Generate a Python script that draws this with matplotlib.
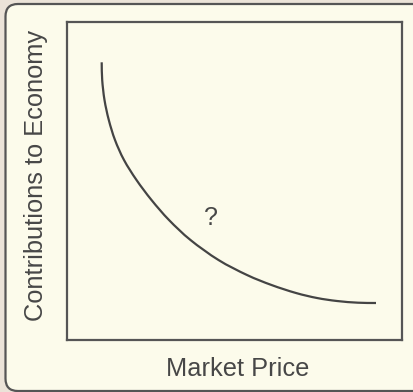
import matplotlib
matplotlib.use("Agg")
import matplotlib.pyplot as plt
import numpy as np
from matplotlib.patches import FancyBboxPatch, PathPatch
from matplotlib.path import Path

plt.rcParams['font.family'] = ['Liberation Sans', 'DejaVu Sans']

# Curve: market price (x) vs contributions to economy (y), arbitrary units
price = [34.7, 35.2, 37.5, 41.8, 48.0, 57.0, 69.5, 84.5, 102.0, 123.5, 151.5,
         180.0, 204.5, 229.0, 250.0, 270.0, 291.0, 309.0]
contribution = [277.7, 260.0, 240.0, 220.0, 200.0, 180.0, 160.0, 140.0, 120.0,
                100.0, 80.0, 65.0, 55.0, 47.0, 42.0, 39.0, 37.3, 37.0]

label_pos = (144.0, 122.0)
label_text = "?"
x_label = "Market Price"
y_label = "Contributions to Economy"


def smooth_path(xs, ys):
    """Catmull-Rom spline through the points, as cubic Bezier segments."""
    p = np.column_stack([xs, ys]).astype(float)
    ext = np.vstack([2 * p[0] - p[1], p, 2 * p[-1] - p[-2]])
    verts = [p[0]]
    codes = [Path.MOVETO]
    for i in range(1, len(ext) - 2):
        p0, p1, p2, p3 = ext[i - 1], ext[i], ext[i + 1], ext[i + 2]
        c1 = p1 + (p2 - p0) / 6.0
        c2 = p2 - (p3 - p1) / 6.0
        verts += [c1, c2, p2]
        codes += [Path.CURVE4] * 3
    return Path(verts, codes)


W, H = 413, 392
fig = plt.figure(figsize=(W / 100, H / 100), dpi=100)
fig.patch.set_facecolor('#ebe3d8')

# Rounded card behind the chart
card = FancyBboxPatch((5.5 / W, 1 - 391 / H), (430 - 5.5) / W, (391 - 4) / H,
                      boxstyle="round,pad=0,rounding_size=0.03",
                      transform=fig.transFigure, facecolor='#fcfbeb',
                      edgecolor='#555555', linewidth=1.6, zorder=-5,
                      mutation_aspect=W / H)
fig.patches.append(card)

ax = fig.add_axes([67 / W, (H - 340) / H, (402 - 67) / W, (340 - 22) / H])
ax.set_zorder(2)
ax.set_facecolor('#fcfbeb')
ax.add_patch(PathPatch(smooth_path(price, contribution), facecolor='none',
                       edgecolor='#444444', lw=1.6, capstyle='butt'))
ax.set_xlim(0, 335)
ax.set_ylim(0, 318)
ax.set_xticks([])
ax.set_yticks([])
for s in ax.spines.values():
    s.set_color('#555555')
    s.set_linewidth(1.6)

ax.text(*label_pos, label_text, ha='center', va='center', fontsize=18,
        color='#474747')

fig.text(238 / W, (H - 376) / H, x_label, ha='center', va='baseline',
         fontsize=18.3, color='#474747')
fig.text(36.5 / W, (H - 175) / H, y_label, ha='center', va='center',
         rotation=90, fontsize=18.3, color='#474747')

fig.savefig('out.png', dpi=100, facecolor=fig.get_facecolor())
